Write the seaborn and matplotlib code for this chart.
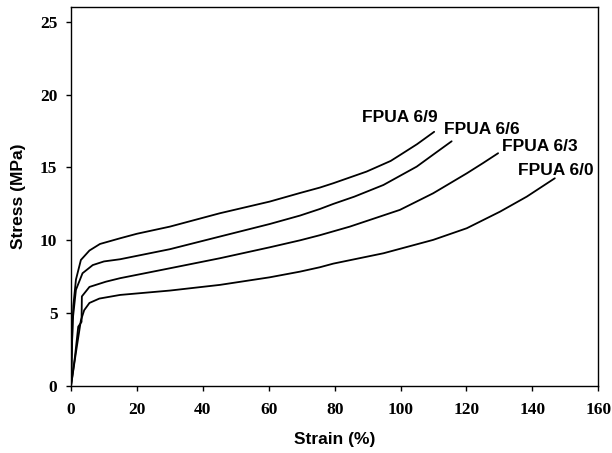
import numpy as np
import pandas as pd
import matplotlib
matplotlib.use("Agg")
import matplotlib.pyplot as plt
import seaborn as sns

# ---- data ----
series_names = ["FPUA 6/9", "FPUA 6/6", "FPUA 6/3", "FPUA 6/0"]

strain_69 = [0, 0.3, 0.7, 1.5, 3.0, 5.6, 8.8, 14.9, 20, 30, 45.2, 60.3, 69.5, 75.5, 79.6, 89.7, 97, 99.8, 105, 110.2]
stress_69 = [0, 3.0, 5.5, 7.3, 8.65, 9.3, 9.75, 10.14, 10.45, 10.94, 11.86, 12.66, 13.25, 13.62, 13.92, 14.72, 15.45, 15.85, 16.6, 17.45]

strain_66 = [0, 0.5, 1.5, 3.5, 6.6, 10, 14.9, 30, 45.2, 60.3, 69.5, 75.5, 79.6, 86, 94.8, 104.9, 110, 115.5]
stress_66 = [0, 4.5, 6.6, 7.74, 8.3, 8.55, 8.70, 9.39, 10.26, 11.12, 11.7, 12.15, 12.5, 13.0, 13.8, 15.06, 15.9, 16.8]

strain_63 = [0, 1.2, 2.2, 3.2, 3.3, 5.6, 10.6, 14.9, 30, 45.2, 60.3, 69.5, 75.5, 84.6, 99.8, 109.9, 120.1, 125, 129.6]
stress_63 = [0, 2.0, 4.07, 4.4, 6.15, 6.8, 7.16, 7.40, 8.08, 8.77, 9.52, 10.0, 10.35, 10.94, 12.09, 13.23, 14.6, 15.3, 15.98]

strain_60 = [0, 1.5, 3.0, 4.0, 5.6, 8.6, 14.9, 30, 45.2, 60.3, 69.5, 75.5, 79.6, 94.8, 109.9, 120.1, 130.2, 138.3, 146.8]
stress_60 = [0, 2.3, 4.5, 5.2, 5.7, 6.0, 6.25, 6.55, 6.94, 7.46, 7.85, 8.15, 8.4, 9.11, 10.03, 10.83, 11.97, 13.0, 14.26]

label_x = [88.2, 113.2, 130.8, 135.6]
label_y = [18.4, 17.6, 16.45, 14.8]

x_ticks = [0, 20, 40, 60, 80, 100, 120, 140, 160]
y_ticks = [0, 5, 10, 15, 20, 25]

# ---- build table ----
frames = []
for name, xs, ys in zip(series_names,
                        [strain_69, strain_66, strain_63, strain_60],
                        [stress_69, stress_66, stress_63, stress_60]):
    frames.append(pd.DataFrame({"strain": xs, "stress": ys, "series": name}))
df = pd.concat(frames, ignore_index=True)

sns.set_style("ticks")
plt.rcParams["font.family"] = ["Liberation Sans", "DejaVu Sans"]
plt.rcParams["text.color"] = "black"
plt.rcParams["axes.labelcolor"] = "black"
plt.rcParams["xtick.color"] = "black"
plt.rcParams["ytick.color"] = "black"

fig = plt.figure(figsize=(6.12, 4.53), dpi=100)
ax = fig.add_axes([0.116, 0.148, 0.9776 - 0.116, 0.9839 - 0.148])

sns.lineplot(data=df, x="strain", y="stress", hue="series",
             palette=["black"] * 4, estimator=None, sort=False,
             linewidth=1.3, legend=False, ax=ax)

for name, lx, ly in zip(series_names, label_x, label_y):
    ax.text(lx, ly, name, ha="left", va="center", fontsize=12.5,
            fontweight="bold", color="black",
            family=["Liberation Sans", "DejaVu Sans"], clip_on=False)

ax.set_xlim(0, 160)
ax.set_ylim(0, 26)
ax.set_xticks(x_ticks)
ax.set_yticks(y_ticks)
ax.set_xticklabels([str(t) for t in x_ticks])
ax.set_yticklabels([str(t) for t in y_ticks])
for lab in ax.get_xticklabels() + ax.get_yticklabels():
    lab.set_family(["Liberation Serif", "DejaVu Serif"])
    lab.set_fontweight("bold")
    lab.set_fontsize(12.5)
    lab.set_color("black")

ax.tick_params(axis="both", direction="out", length=3.8, width=1.0,
               color="black", labelcolor="black")
ax.tick_params(axis="y", pad=6)
ax.tick_params(axis="x", pad=8)

for side in ["top", "right", "left", "bottom"]:
    ax.spines[side].set_visible(True)
    ax.spines[side].set_color("black")
    ax.spines[side].set_linewidth(1.0)

ax.set_xlabel("Strain (%)", fontsize=12.5, fontweight="bold", labelpad=10,
              color="black")
ax.set_ylabel("Stress (MPa)", fontsize=12.5, fontweight="bold", labelpad=10,
              color="black")

fig.savefig("out.png", dpi=100)
